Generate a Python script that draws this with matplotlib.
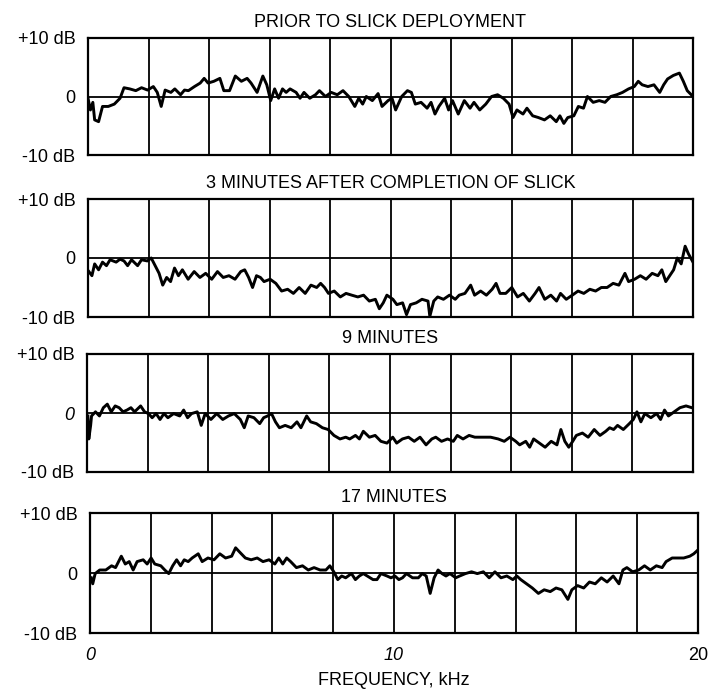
import numpy as np
import matplotlib
matplotlib.use("Agg")
import matplotlib.pyplot as plt

plt.rcParams['font.family'] = ['Liberation Sans', 'DejaVu Sans']

# panel titles
titles = ['PRIOR TO SLICK DEPLOYMENT',
          '3 MINUTES AFTER COMPLETION OF SLICK',
          '9 MINUTES',
          '17 MINUTES']

# --- prior to slick deployment (kHz, dB) ---
f_prior = [0.0, 0.08, 0.16, 0.22, 0.35, 0.48, 0.67, 0.87, 1.06, 1.19, 1.38, 1.58, 1.77, 1.97,
           2.16, 2.29, 2.42, 2.55, 2.74, 2.87, 3.06, 3.19, 3.32, 3.52, 3.71, 3.84, 3.97, 4.16,
           4.36, 4.49, 4.68, 4.87, 5.07, 5.26, 5.39, 5.59, 5.78, 5.91, 6.04, 6.17, 6.30, 6.43,
           6.55, 6.68, 6.88, 7.01, 7.14, 7.33, 7.52, 7.65, 7.85, 8.04, 8.24, 8.43, 8.62, 8.82,
           8.95, 9.08, 9.20, 9.40, 9.59, 9.72, 9.92, 10.05, 10.17, 10.37, 10.56, 10.69, 10.82,
           11.01, 11.21, 11.34, 11.47, 11.60, 11.79, 11.92, 12.05, 12.24, 12.44, 12.63, 12.76,
           12.95, 13.15, 13.34, 13.54, 13.73, 13.92, 14.05, 14.18, 14.38, 14.51, 14.70, 14.89,
           15.09, 15.28, 15.48, 15.60, 15.73, 15.86, 16.06, 16.21, 16.38, 16.51, 16.70, 16.90,
           17.09, 17.28, 17.48, 17.67, 17.87, 18.06, 18.19, 18.32, 18.51, 18.71, 18.90, 19.03,
           19.16, 19.35, 19.55, 19.68, 19.81, 20.0]
db_prior = [-0.3, -2.3, -1.0, -4.0, -4.3, -1.7, -1.7, -1.3, -0.3, 1.5, 1.3, 1.0, 1.5, 1.1,
            1.7, 0.7, -1.7, 1.1, 0.7, 1.3, 0.3, 1.1, 1.0, 1.7, 2.3, 3.1, 2.3, 2.6,
            3.1, 1.0, 1.0, 3.5, 2.6, 3.1, 2.3, 0.7, 3.5, 2.0, -0.7, 1.3, -0.3, 1.3,
            0.7, 1.3, 0.7, -0.3, 0.7, -0.3, 0.3, 1.0, 0.0, 0.7, 0.3, 1.0, 0.0, -1.7,
            -0.3, -1.3, 0.0, -0.7, 0.5, -1.7, -0.7, -0.3, -2.3, 0.0, 1.0, 0.7, -1.3,
            -1.0, -2.0, -1.0, -3.0, -1.7, -0.3, -2.3, -0.7, -3.0, -0.7, -2.0, -1.0,
            -2.3, -1.3, 0.0, 0.3, -0.3, -1.3, -3.6, -2.3, -3.0, -2.0, -3.3, -3.6,
            -4.0, -3.3, -4.3, -3.3, -4.6, -3.6, -3.3, -1.7, -2.0, 0.0, -1.0, -0.7,
            -1.0, 0.0, 0.3, 0.7, 1.3, 1.7, 2.6, 2.0, 1.7, 2.0, 0.7, 2.0,
            3.0, 3.6, 4.0, 2.6, 1.0, 0.0]

# --- 3 minutes after completion ---
f_3min = [0.03, 0.13, 0.22, 0.35, 0.48, 0.61, 0.73, 0.93, 1.06, 1.19, 1.31, 1.44, 1.64, 1.77,
          1.96, 2.09, 2.22, 2.35, 2.47, 2.60, 2.73, 2.86, 2.99, 3.12, 3.31, 3.51, 3.70, 3.89,
          4.09, 4.28, 4.47, 4.66, 4.86, 5.05, 5.18, 5.31, 5.44, 5.57, 5.70, 5.82, 6.02, 6.21,
          6.40, 6.60, 6.79, 6.98, 7.18, 7.37, 7.56, 7.69, 7.82, 7.95, 8.14, 8.34, 8.53, 8.72,
          8.92, 9.11, 9.30, 9.50, 9.63, 9.76, 9.88, 10.08, 10.21, 10.40, 10.53, 10.66, 10.85,
          11.04, 11.24, 11.30, 11.43, 11.56, 11.75, 11.95, 12.14, 12.27, 12.46, 12.65, 12.78,
          12.98, 13.17, 13.36, 13.49, 13.62, 13.81, 14.01, 14.20, 14.39, 14.59, 14.78, 14.91,
          15.10, 15.30, 15.49, 15.62, 15.81, 16.01, 16.20, 16.39, 16.59, 16.78, 16.97, 17.16,
          17.36, 17.55, 17.75, 17.87, 18.07, 18.26, 18.45, 18.65, 18.84, 18.97, 19.10, 19.23,
          19.36, 19.48, 19.61, 19.74, 19.85, 20.0]
db_3min = [-2.3, -3.0, -1.0, -2.0, -0.7, -1.3, -0.3, -0.7, -0.2, -0.5, -1.3, -0.3, -1.3, -0.3,
           -0.5, 0.0, -1.3, -2.6, -4.6, -3.3, -4.0, -1.7, -3.0, -2.0, -3.6, -2.3, -3.3, -2.6,
           -3.6, -2.3, -3.3, -3.0, -3.6, -2.3, -2.0, -3.3, -5.0, -3.0, -3.3, -4.0, -3.6, -4.3,
           -5.6, -5.3, -6.0, -5.0, -6.0, -4.6, -5.0, -4.3, -5.0, -6.0, -5.6, -6.6, -6.0, -6.3,
           -6.6, -6.3, -7.3, -7.0, -8.6, -7.6, -6.3, -7.0, -7.9, -7.6, -9.6, -7.9, -7.6,
           -7.0, -7.3, -9.9, -7.3, -6.6, -7.0, -6.3, -7.0, -6.3, -6.0, -4.6, -6.3,
           -5.6, -6.3, -5.3, -4.3, -6.0, -6.0, -5.0, -6.6, -6.0, -7.3, -6.0, -5.0,
           -7.0, -6.3, -7.3, -6.0, -7.0, -6.3, -5.6, -6.0, -5.3, -5.6, -5.0, -5.0,
           -4.3, -4.6, -2.6, -4.0, -3.6, -3.0, -3.6, -2.6, -3.0, -2.0, -4.0, -3.0,
           -2.0, 0.0, -1.0, 2.0, 0.7, -0.7]

# --- 9 minutes ---
f_9min = [0.03, 0.06, 0.12, 0.15, 0.28, 0.41, 0.54, 0.67, 0.80, 0.93, 1.06, 1.19, 1.32, 1.45,
          1.57, 1.77, 1.90, 2.03, 2.15, 2.28, 2.41, 2.54, 2.67, 2.86, 3.06, 3.19, 3.32, 3.45,
          3.64, 3.77, 3.90, 4.09, 4.28, 4.48, 4.67, 4.86, 5.06, 5.19, 5.32, 5.51, 5.70, 5.83,
          5.96, 6.09, 6.22, 6.35, 6.54, 6.74, 6.93, 7.06, 7.25, 7.38, 7.57, 7.77, 7.96, 8.15,
          8.35, 8.54, 8.67, 8.86, 8.99, 9.12, 9.32, 9.51, 9.70, 9.90, 10.09, 10.22, 10.41,
          10.61, 10.80, 10.99, 11.19, 11.38, 11.51, 11.70, 11.90, 12.09, 12.22, 12.41, 12.61,
          12.80, 13.06, 13.32, 13.57, 13.77, 13.96, 14.15, 14.28, 14.48, 14.61, 14.74, 14.93,
          15.12, 15.32, 15.51, 15.64, 15.77, 15.90, 16.03, 16.15, 16.35, 16.54, 16.74, 16.93,
          17.12, 17.25, 17.38, 17.51, 17.70, 17.90, 18.03, 18.15, 18.28, 18.41, 18.61, 18.80,
          18.93, 19.06, 19.19, 19.38, 19.57, 19.77, 19.96]
db_9min = [-0.5, -4.4, -2.1, -0.5, 0.2, -0.5, 0.9, 1.5, 0.2, 1.2, 0.9, 0.2, 0.5, 0.9,
           0.2, 1.2, 0.2, -0.1, -0.8, -0.1, -1.1, -0.1, -0.8, -0.1, -0.5, 0.5, -0.8, -0.1,
           0.2, -2.1, -0.1, -1.1, -0.1, -1.1, -0.5, -0.1, -1.1, -2.5, -0.5, -0.8, -1.8, -0.8,
           -0.5, -0.1, -1.5, -2.5, -2.1, -2.5, -1.5, -2.5, -0.5, -1.5, -1.8, -2.5, -2.8, -3.8,
           -4.4, -4.1, -4.4, -3.8, -4.4, -3.1, -4.1, -3.8, -4.8, -5.1, -4.1, -5.1, -4.4,
           -4.1, -4.8, -4.1, -5.4, -4.4, -4.1, -4.8, -4.4, -4.8, -3.8, -4.4, -3.8,
           -4.1, -4.1, -4.1, -4.4, -4.8, -4.1, -4.8, -5.4, -4.8, -5.8, -4.4, -5.1,
           -5.8, -4.8, -5.4, -2.8, -4.8, -5.8, -4.8, -3.8, -3.4, -4.1, -2.8, -3.8,
           -3.1, -2.5, -2.8, -2.1, -2.8, -1.8, -1.1, 0.2, -1.5, -0.1, -0.8, -0.1,
           -1.1, 0.5, -0.5, 0.2, 0.9, 1.2, 0.9]

# --- 17 minutes ---
f_17min = [0.04, 0.09, 0.17, 0.32, 0.52, 0.71, 0.84, 1.03, 1.16, 1.29, 1.42, 1.55, 1.75, 1.88,
           2.01, 2.13, 2.33, 2.46, 2.59, 2.72, 2.85, 2.98, 3.10, 3.23, 3.36, 3.56, 3.69, 3.88,
           4.08, 4.27, 4.46, 4.66, 4.79, 4.92, 5.11, 5.30, 5.50, 5.69, 5.89, 6.08, 6.21, 6.34,
           6.47, 6.60, 6.79, 6.99, 7.18, 7.37, 7.57, 7.76, 7.89, 8.02, 8.15, 8.28, 8.41, 8.60,
           8.73, 8.86, 8.99, 9.12, 9.31, 9.44, 9.57, 9.77, 9.90, 10.03, 10.16, 10.28, 10.41,
           10.61, 10.80, 10.93, 11.06, 11.19, 11.32, 11.45, 11.58, 11.71, 11.84, 12.03, 12.16,
           12.35, 12.55, 12.74, 12.94, 13.13, 13.32, 13.52, 13.71, 13.91, 14.04, 14.17, 14.36,
           14.55, 14.75, 14.94, 15.14, 15.33, 15.52, 15.72, 15.85, 16.04, 16.24, 16.43, 16.62,
           16.82, 17.01, 17.21, 17.40, 17.53, 17.66, 17.85, 18.05, 18.24, 18.43, 18.63, 18.82,
           18.95, 19.15, 19.34, 19.53, 19.73, 19.86, 19.99]
db_17min = [-0.8, -1.8, -0.1, 0.5, 0.5, 1.2, 0.9, 2.8, 1.5, 1.9, 0.5, 1.9, 2.2, 1.5,
            2.5, 1.5, 1.2, 0.5, -0.1, 1.2, 2.2, 1.2, 2.2, 1.9, 2.5, 3.2, 1.9, 2.5,
            2.2, 3.2, 2.5, 2.8, 4.2, 3.5, 2.5, 2.2, 2.5, 1.9, 2.2, 1.5, 2.5, 1.5,
            2.5, 1.9, 0.9, 1.2, 0.5, 0.9, 0.5, 0.5, 1.2, 0.2, -1.1, -0.5, -0.8, -0.1,
            -1.1, -0.5, -0.1, -0.5, -1.1, -1.1, -0.1, -0.5, -0.8, -0.5, -1.1, -0.8, -0.1,
            -0.8, -0.8, -0.1, -0.5, -3.4, -0.8, 0.5, -0.1, -0.5, -0.1, -0.8, -0.5,
            -0.1, 0.2, -0.1, 0.2, -0.8, 0.2, -0.8, -0.5, -1.1, -0.5, -1.1, -1.8,
            -2.5, -3.4, -2.8, -3.1, -2.5, -2.8, -4.4, -2.8, -2.1, -2.5, -1.5, -1.8,
            -0.8, -1.5, -0.5, -1.8, 0.5, 0.9, 0.2, 0.5, 1.2, 0.5, 1.2, 0.9,
            1.9, 2.5, 2.5, 2.5, 2.8, 3.2, 3.8]

freqs = [f_prior, f_3min, f_9min, f_17min]
levels = [db_prior, db_3min, db_9min, db_17min]

W, H = 709, 690
fig = plt.figure(figsize=(W / 100, H / 100), dpi=100)

# pixel boxes (left, top, right, bottom) of each panel
boxes = [(88, 38, 693, 155), (88, 199, 693, 317), (87, 354, 693, 472), (90, 513, 698, 633)]

for i, (l, t, r, b) in enumerate(boxes):
    ax = fig.add_axes([l / W, 1 - b / H, (r - l) / W, (b - t) / H])
    ax.plot(freqs[i], levels[i], color='black', lw=2.1, solid_joinstyle='round')
    ax.set_xlim(0, 20)
    ax.set_ylim(-10, 10)
    ax.set_xticks(np.arange(0, 21, 2))
    ax.set_yticks([-10, 0, 10])
    ax.grid(True, color='black', lw=1.3)
    ax.tick_params(length=0, labelsize=13, pad=9)
    ax.set_yticklabels(['-10 dB', '0', '+10 dB'])
    if i == 2:
        ax.get_yticklabels()[1].set_style('italic')
    if i == 3:
        ax.set_xticklabels(['0', '', '', '', '', '10', '', '', '', '', '20'])
        xl = ax.get_xticklabels()
        xl[0].set_style('italic')
        xl[5].set_style('italic')
        ax.tick_params(axis='x', pad=10)
        ax.set_xlabel('FREQUENCY, kHz', fontsize=13, labelpad=6)
    else:
        ax.set_xticklabels([])
    for s in ax.spines.values():
        s.set_linewidth(1.6)
    ax.set_title(titles[i], fontsize=13, pad=8)

fig.savefig('out.png', dpi=100)
